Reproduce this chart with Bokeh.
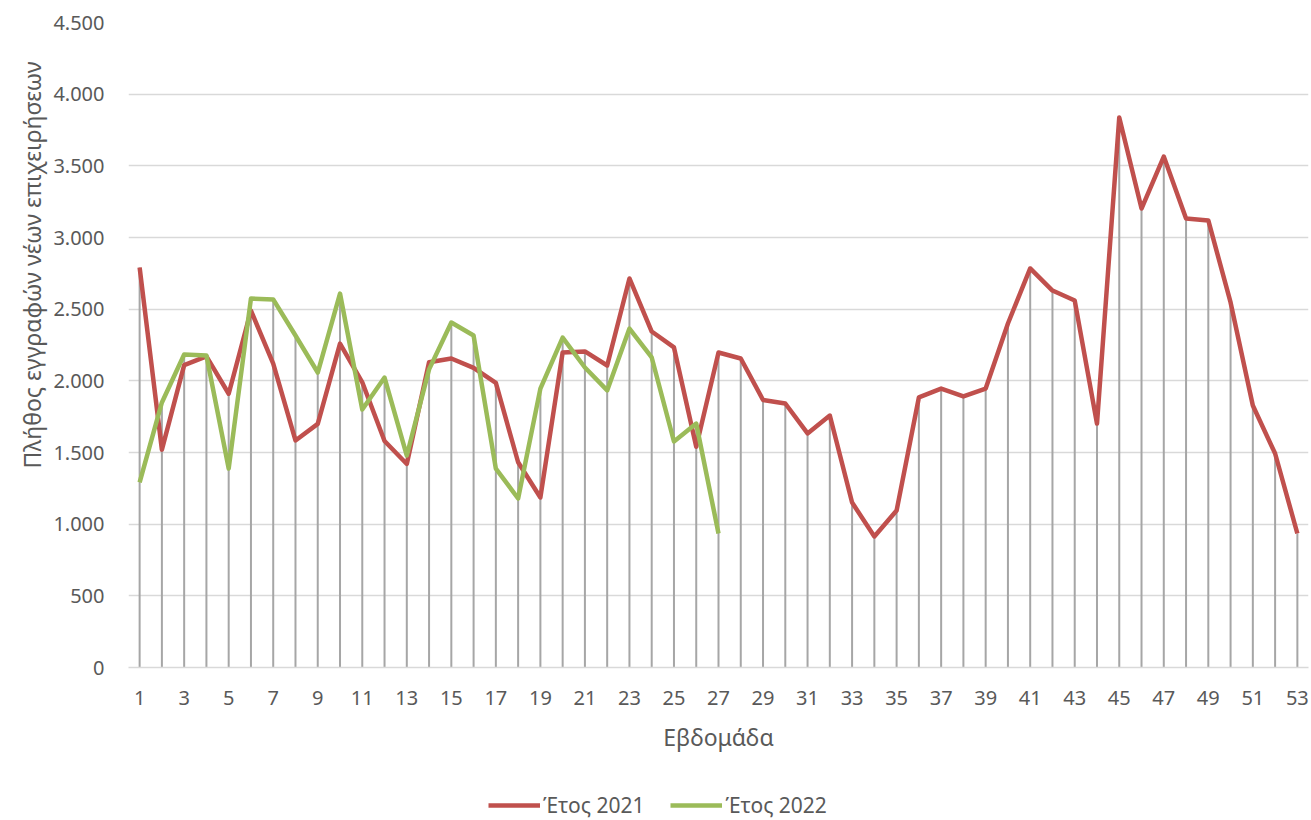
from bokeh.plotting import figure
from bokeh.layouts import column
from bokeh.models import (ColumnDataSource, FixedTicker, CustomJSTickFormatter,
                          Legend, LegendItem, Title, Range1d)
from bokeh.embed import file_html
from bokeh.resources import INLINE

weeks = list(range(1, 54))
y2021 = [2790, 1520, 2110, 2170, 1910, 2490, 2120, 1584, 1700, 2260, 1990, 1580, 1420,
         2130, 2156, 2090, 1985, 1432, 1186, 2198, 2205, 2107, 2714, 2344, 2233, 1540,
         2198, 2156, 1866, 1842, 1633, 1758, 1151, 914, 1095, 1884, 1946, 1891, 1946,
         2400, 2784, 2630, 2560, 1702, 3837, 3202, 3565, 3133, 3119, 2547, 1828, 1493, 935]
weeks2022 = list(range(1, 28))
y2022 = [1291, 1849, 2184, 2177, 1388, 2574, 2568, 2316, 2058, 2609, 1800, 2023, 1479,
         2080, 2407, 2316, 1388, 1179, 1946, 2302, 2093, 1933, 2365, 2163, 1577, 1702, 935]
x_ticks = list(range(1, 54, 2))
y_ticks = list(range(0, 4501, 500))
series_names = ["Έτος 2021", "Έτος 2022"]
x_title = "Εβδομάδα"
y_title = "Πλήθος εγγραφών νέων επιχειρήσεων"
colors = ["#C0504D", "#9BBB59"]

FONT = "Noto Sans"
TXT = "#595959"

drop_top = [max(a, y2022[i]) if i < len(y2022) else a for i, a in enumerate(y2021)]
drop_src = ColumnDataSource(dict(x=weeks, y0=[0] * len(weeks), y1=drop_top))

p = figure(width=1311, height=780, output_backend="svg", toolbar_location=None,
           x_range=Range1d(0.5, 53.5), y_range=Range1d(0, 4500),
           min_border_left=128, min_border_right=3, min_border_top=22,
           min_border_bottom=113)
p.outline_line_color = None
p.background_fill_color = "white"
p.border_fill_color = "white"

p.xgrid.visible = False
p.ygrid.grid_line_color = "#D9D9D9"
p.ygrid.grid_line_width = 1.5

p.xaxis.ticker = FixedTicker(ticks=x_ticks)
p.yaxis.ticker = FixedTicker(ticks=y_ticks)
p.yaxis.formatter = CustomJSTickFormatter(
    code="return Math.round(tick).toString().replace(/\\B(?=(\\d{3})+(?!\\d))/g, '.');")
for ax in (p.xaxis, p.yaxis):
    ax.major_tick_line_color = None
    ax.minor_tick_line_color = None
    ax.major_label_text_font = FONT
    ax.major_label_text_font_size = "20px"
    ax.major_label_text_color = TXT
    ax.axis_label_text_font = FONT
    ax.axis_label_text_font_size = "23px"
    ax.axis_label_text_font_style = "normal"
    ax.axis_label_text_color = TXT
p.yaxis.axis_line_color = None
p.yaxis.major_label_standoff = 18
p.xaxis.axis_line_color = "#D9D9D9"
p.xaxis.axis_line_width = 1.5
p.xaxis.major_label_standoff = 17
p.xaxis.axis_label = x_title
p.xaxis.axis_label_standoff = 13

p.segment(x0="x", y0="y0", x1="x", y1="y1", source=drop_src,
          line_color="#A6A6A6", line_width=2)
p.line(weeks, y2021, line_color=colors[0], line_width=4.5, line_join="round")
p.line(weeks2022, y2022, line_color=colors[1], line_width=4.5, line_join="round")

ytitle = Title(text=y_title, align="left", offset=199, vertical_align="middle",
               text_font=FONT, text_font_size="23px", text_font_style="normal",
               text_color=TXT, standoff=4)
p.add_layout(ytitle, "left")

# legend strip below the chart
q = figure(width=1311, height=40, output_backend="svg", toolbar_location=None,
           x_range=Range1d(0.5, 53.5), y_range=Range1d(0, 4500),
           min_border_left=0, min_border_right=0, min_border_top=0, min_border_bottom=0)
q.axis.visible = False
q.grid.visible = False
q.outline_line_color = None
q.border_fill_color = "white"
q.background_fill_color = "white"
g1 = q.line(weeks, y2021, line_color=colors[0], line_width=4.5, visible=False)
g2 = q.line(weeks2022, y2022, line_color=colors[1], line_width=4.5, visible=False)
legend = Legend(items=[LegendItem(label=series_names[0], renderers=[g1]),
                       LegendItem(label=series_names[1], renderers=[g2])],
                location=(360, 1), orientation="horizontal", click_policy="none",
                glyph_width=52, glyph_height=24, label_height=24, label_standoff=3,
                spacing=26, padding=0, margin=0, border_line_color=None,
                background_fill_alpha=0, inactive_fill_alpha=0,
                label_text_font=FONT, label_text_font_size="21px", label_text_color=TXT)
q.add_layout(legend, "center")

open("out.html", "w").write(file_html(column(p, q, spacing=0), INLINE))
